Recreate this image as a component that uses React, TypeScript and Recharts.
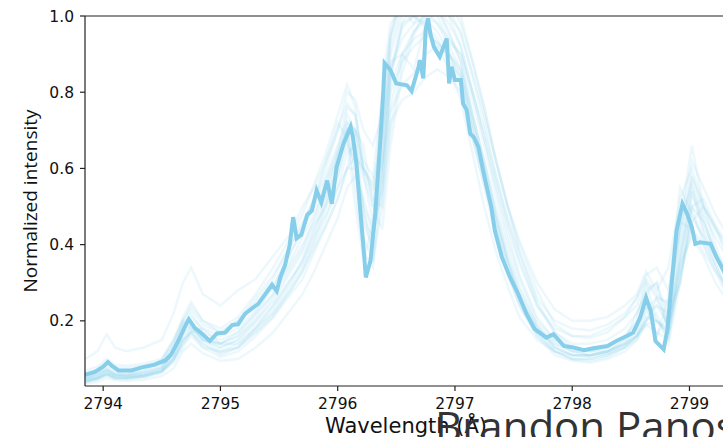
import React from 'react';
import { LineChart, Line, XAxis, YAxis, ReferenceLine } from 'recharts';

// bold profile (the highlighted spectrum)
const boldWave = [
  2793.845, 2793.93, 2794.0, 2794.04, 2794.07, 2794.13, 2794.24, 2794.33, 2794.44, 2794.53,
  2794.58, 2794.64, 2794.7, 2794.73, 2794.78, 2794.84, 2794.91, 2794.97, 2795.04, 2795.1,
  2795.15, 2795.21, 2795.27, 2795.32, 2795.37, 2795.44, 2795.48, 2795.51, 2795.55, 2795.59,
  2795.62, 2795.65, 2795.69, 2795.74, 2795.78, 2795.82, 2795.86, 2795.91, 2795.95, 2795.99,
  2796.05, 2796.11, 2796.13, 2796.16, 2796.19, 2796.22, 2796.24, 2796.28, 2796.32, 2796.36,
  2796.39, 2796.4, 2796.45, 2796.5, 2796.59, 2796.63, 2796.69, 2796.7, 2796.73, 2796.75,
  2796.77, 2796.79, 2796.82, 2796.87, 2796.93, 2796.95, 2796.97, 2797.0, 2797.05, 2797.07,
  2797.1, 2797.13, 2797.16, 2797.2, 2797.24, 2797.27, 2797.31, 2797.34, 2797.4, 2797.47,
  2797.54, 2797.61, 2797.68, 2797.78, 2797.84, 2797.93, 2798.01, 2798.1, 2798.18, 2798.3,
  2798.38, 2798.47, 2798.52, 2798.58, 2798.63, 2798.67, 2798.71, 2798.78, 2798.81, 2798.85,
  2798.89, 2798.94, 2798.98, 2799.02, 2799.05, 2799.09, 2799.18, 2799.23, 2799.29, 2799.33,
];
const boldInt = [
  0.058, 0.066, 0.08, 0.092, 0.083, 0.07, 0.07, 0.078, 0.085, 0.096,
  0.112, 0.147, 0.187, 0.204, 0.182, 0.167, 0.147, 0.167, 0.169, 0.189,
  0.191, 0.218, 0.233, 0.244, 0.265, 0.295, 0.278, 0.314, 0.345, 0.398,
  0.472, 0.417, 0.426, 0.478, 0.489, 0.542, 0.511, 0.568, 0.507, 0.603,
  0.665, 0.709, 0.682, 0.612, 0.498, 0.393, 0.314, 0.358, 0.481, 0.656,
  0.805, 0.876, 0.858, 0.823, 0.818, 0.803, 0.867, 0.884, 0.836, 0.963,
  0.994, 0.954, 0.919, 0.893, 0.941, 0.823, 0.867, 0.832, 0.832, 0.77,
  0.753, 0.691, 0.682, 0.656, 0.595, 0.553, 0.498, 0.437, 0.367, 0.314,
  0.27, 0.218, 0.178, 0.156, 0.165, 0.134, 0.13, 0.123, 0.128, 0.134,
  0.148, 0.161, 0.169, 0.209, 0.261, 0.226, 0.147, 0.125, 0.174, 0.305,
  0.437, 0.507, 0.481, 0.446, 0.402, 0.406, 0.402, 0.367, 0.332, 0.31,
];

// faint profiles share a coarser wavelength grid
const faintWave = [
  2793.85, 2793.95, 2794.03, 2794.1, 2794.2, 2794.35, 2794.5, 2794.6, 2794.68, 2794.75,
  2794.85, 2795.0, 2795.15, 2795.3, 2795.45, 2795.6, 2795.7, 2795.8, 2795.9, 2796.0,
  2796.08, 2796.15, 2796.22, 2796.3, 2796.38, 2796.45, 2796.55, 2796.65, 2796.75, 2796.85,
  2796.95, 2797.05, 2797.15, 2797.25, 2797.35, 2797.45, 2797.55, 2797.7, 2797.85, 2798.0,
  2798.15, 2798.3, 2798.45, 2798.55, 2798.63, 2798.72, 2798.82, 2798.92, 2799.02, 2799.12,
  2799.22, 2799.33,
];
const faintProfiles = [
  [0.05,0.06,0.075,0.062,0.06,0.066,0.08,0.11,0.16,0.18,0.15,0.14,0.16,0.2,0.25,0.33,0.38,0.45,0.5,0.58,0.66,0.62,0.45,0.4,0.7,0.88,0.9,0.86,0.98,1.02,0.95,0.88,0.74,0.62,0.48,0.37,0.28,0.19,0.14,0.12,0.11,0.12,0.14,0.17,0.24,0.16,0.22,0.46,0.44,0.38,0.33,0.29],
  [0.1,0.12,0.165,0.13,0.12,0.13,0.15,0.22,0.3,0.34,0.27,0.24,0.28,0.31,0.37,0.43,0.5,0.55,0.62,0.7,0.77,0.74,0.62,0.58,0.78,0.95,1.05,1.1,1.12,1.08,1.02,0.95,0.85,0.74,0.62,0.5,0.41,0.3,0.23,0.2,0.2,0.21,0.24,0.27,0.33,0.28,0.34,0.52,0.6,0.5,0.45,0.4],
  [0.035,0.04,0.05,0.044,0.042,0.046,0.055,0.075,0.12,0.14,0.115,0.095,0.1,0.13,0.17,0.23,0.27,0.33,0.4,0.47,0.55,0.58,0.52,0.44,0.6,0.75,0.82,0.85,0.9,0.92,0.9,0.85,0.7,0.57,0.44,0.33,0.24,0.16,0.11,0.095,0.09,0.1,0.12,0.15,0.19,0.2,0.17,0.35,0.42,0.37,0.3,0.25],
  [0.048,0.056,0.07,0.058,0.055,0.06,0.075,0.12,0.19,0.22,0.17,0.15,0.17,0.22,0.27,0.36,0.42,0.48,0.55,0.63,0.74,0.7,0.5,0.36,0.62,0.92,1.02,0.98,1.05,1.0,0.93,0.9,0.78,0.66,0.53,0.41,0.31,0.2,0.15,0.13,0.12,0.13,0.16,0.2,0.3,0.2,0.18,0.45,0.56,0.44,0.38,0.33],
  [0.04,0.05,0.062,0.05,0.05,0.055,0.07,0.1,0.15,0.17,0.13,0.12,0.14,0.18,0.23,0.3,0.36,0.44,0.52,0.64,0.7,0.55,0.38,0.34,0.55,0.82,0.9,0.94,0.96,0.93,0.9,0.84,0.7,0.58,0.46,0.35,0.26,0.18,0.13,0.11,0.105,0.115,0.135,0.16,0.2,0.26,0.2,0.3,0.5,0.46,0.38,0.29],
  [0.06,0.07,0.085,0.072,0.07,0.076,0.09,0.14,0.2,0.24,0.2,0.17,0.2,0.25,0.31,0.4,0.46,0.52,0.6,0.7,0.8,0.78,0.7,0.66,0.74,0.95,1.08,1.12,1.15,1.1,1.06,1.0,0.88,0.76,0.62,0.5,0.4,0.28,0.19,0.16,0.155,0.17,0.21,0.26,0.32,0.34,0.28,0.44,0.62,0.55,0.48,0.42],
  [0.045,0.052,0.066,0.056,0.054,0.058,0.07,0.1,0.14,0.18,0.16,0.13,0.15,0.19,0.24,0.31,0.35,0.42,0.48,0.55,0.6,0.63,0.6,0.52,0.5,0.7,0.88,0.96,1.0,1.04,1.0,0.92,0.8,0.68,0.55,0.43,0.32,0.21,0.15,0.12,0.11,0.12,0.14,0.16,0.19,0.17,0.15,0.33,0.46,0.5,0.4,0.31],
  [0.05,0.058,0.072,0.06,0.058,0.064,0.078,0.12,0.18,0.2,0.16,0.14,0.16,0.21,0.27,0.35,0.4,0.46,0.53,0.6,0.7,0.66,0.48,0.42,0.58,0.84,0.97,1.0,0.98,0.94,0.88,0.84,0.72,0.6,0.47,0.36,0.27,0.18,0.13,0.11,0.11,0.115,0.14,0.18,0.27,0.3,0.17,0.38,0.54,0.43,0.37,0.31],
  [0.038,0.046,0.056,0.048,0.047,0.052,0.064,0.095,0.14,0.16,0.13,0.105,0.12,0.16,0.21,0.28,0.33,0.4,0.47,0.55,0.64,0.66,0.58,0.46,0.62,0.86,0.98,1.04,1.06,1.02,0.96,0.88,0.74,0.61,0.48,0.36,0.26,0.17,0.12,0.1,0.095,0.105,0.13,0.16,0.22,0.24,0.19,0.36,0.5,0.4,0.34,0.27],
  [0.07,0.08,0.1,0.085,0.082,0.088,0.1,0.15,0.21,0.25,0.2,0.18,0.21,0.27,0.34,0.42,0.48,0.56,0.64,0.74,0.82,0.76,0.58,0.5,0.66,0.9,1.0,1.04,1.06,1.02,0.98,0.92,0.8,0.7,0.58,0.47,0.38,0.26,0.2,0.18,0.175,0.19,0.22,0.26,0.31,0.27,0.24,0.46,0.66,0.5,0.44,0.38],
  [0.042,0.05,0.062,0.052,0.05,0.056,0.07,0.11,0.16,0.19,0.15,0.12,0.13,0.17,0.22,0.29,0.34,0.41,0.5,0.58,0.68,0.6,0.42,0.36,0.5,0.76,0.9,0.96,0.99,0.96,0.9,0.82,0.68,0.55,0.42,0.32,0.24,0.16,0.12,0.1,0.1,0.11,0.13,0.15,0.2,0.22,0.14,0.3,0.47,0.42,0.35,0.27],
  [0.055,0.064,0.078,0.066,0.064,0.07,0.085,0.13,0.19,0.21,0.18,0.16,0.18,0.23,0.29,0.38,0.44,0.5,0.57,0.65,0.76,0.74,0.6,0.55,0.7,0.94,1.04,1.08,1.1,1.05,1.0,0.96,0.84,0.72,0.58,0.46,0.36,0.24,0.17,0.14,0.14,0.15,0.18,0.22,0.28,0.3,0.21,0.4,0.58,0.48,0.42,0.36],
  [0.04,0.047,0.058,0.05,0.049,0.054,0.066,0.1,0.15,0.17,0.14,0.11,0.13,0.18,0.24,0.31,0.36,0.43,0.51,0.6,0.72,0.7,0.6,0.54,0.62,0.8,0.88,0.92,0.95,0.93,0.9,0.86,0.74,0.62,0.5,0.39,0.29,0.19,0.13,0.11,0.11,0.12,0.15,0.18,0.23,0.26,0.18,0.34,0.55,0.47,0.38,0.3],
  [0.048,0.055,0.068,0.057,0.056,0.062,0.076,0.115,0.17,0.19,0.15,0.13,0.15,0.2,0.26,0.34,0.39,0.47,0.56,0.64,0.7,0.62,0.46,0.42,0.56,0.84,0.98,1.0,1.02,0.98,0.92,0.86,0.72,0.59,0.46,0.35,0.26,0.18,0.14,0.12,0.12,0.13,0.16,0.19,0.24,0.2,0.17,0.37,0.53,0.46,0.38,0.31],
  [0.044,0.05,0.06,0.055,0.052,0.058,0.068,0.09,0.13,0.17,0.18,0.14,0.14,0.18,0.22,0.28,0.33,0.39,0.45,0.52,0.6,0.7,0.66,0.5,0.44,0.66,0.85,0.95,1.02,1.06,1.04,0.98,0.88,0.76,0.62,0.5,0.38,0.25,0.17,0.13,0.12,0.12,0.14,0.16,0.2,0.24,0.22,0.3,0.5,0.52,0.45,0.36],
  [0.05,0.062,0.07,0.06,0.058,0.068,0.1,0.15,0.2,0.18,0.15,0.14,0.17,0.22,0.29,0.38,0.44,0.52,0.62,0.72,0.68,0.5,0.36,0.45,0.82,0.98,1.02,1.0,0.97,0.92,0.86,0.78,0.64,0.5,0.38,0.29,0.21,0.15,0.12,0.11,0.11,0.12,0.15,0.22,0.27,0.16,0.26,0.55,0.48,0.42,0.35,0.28],
  [0.065,0.072,0.09,0.078,0.076,0.082,0.095,0.14,0.2,0.23,0.19,0.17,0.2,0.26,0.32,0.4,0.45,0.52,0.58,0.66,0.72,0.7,0.6,0.56,0.68,0.86,0.94,0.98,1.0,0.98,0.94,0.9,0.8,0.68,0.56,0.45,0.35,0.24,0.18,0.16,0.16,0.18,0.21,0.24,0.3,0.26,0.25,0.42,0.58,0.5,0.44,0.4],
  [0.042,0.048,0.06,0.05,0.05,0.054,0.066,0.1,0.15,0.17,0.14,0.115,0.13,0.17,0.21,0.27,0.31,0.38,0.45,0.52,0.6,0.6,0.5,0.44,0.54,0.72,0.78,0.8,0.84,0.86,0.84,0.8,0.68,0.56,0.44,0.33,0.25,0.17,0.12,0.1,0.1,0.11,0.13,0.16,0.21,0.2,0.16,0.32,0.44,0.4,0.33,0.26],
];

const xTicks = [2794, 2795, 2796, 2797, 2798, 2799];
const yTicks = [0.2, 0.4, 0.6, 0.8, 1.0];

const SKY = '#87CEEB';
const tickFont = { fontFamily: 'DejaVu Sans', fontSize: 15.5, fill: '#111' };

const boldData = boldWave.map((w, i) => ({ w, v: boldInt[i] }));
const faintData = faintProfiles.map((p) => faintWave.map((w, i) => ({ w, v: p[i] })));

export default function App() {
  return (
    <div style={{ position: 'fixed', left: 0, top: 0, width: 723, height: 437, overflow: 'hidden', background: '#fff' }}>
      <div style={{ position: 'absolute', left: 0, top: 0 }}>
        <LineChart width={740} height={437} margin={{ top: 16, right: 13, bottom: 21, left: 25 }}>
          <XAxis
            dataKey="w"
            type="number"
            domain={[2793.845, 2799.32]}
            allowDataOverflow
            ticks={xTicks}
            tickSize={5}
            tickMargin={7}
            height={30}
            stroke="#222"
            strokeWidth={1.2}
            tick={tickFont}
          />
          <YAxis
            type="number"
            domain={[0.029, 1.0]}
            allowDataOverflow
            ticks={yTicks}
            tickFormatter={(v: number) => v.toFixed(1)}
            tickSize={5}
            tickMargin={6}
            width={60}
            stroke="#222"
            strokeWidth={1.2}
            tick={tickFont}
          />
          {faintData.map((d, i) => (
            <Line
              key={i}
              data={d}
              dataKey="v"
              type="linear"
              stroke={SKY}
              strokeOpacity={0.15}
              strokeWidth={2.5}
              dot={false}
              isAnimationActive={false}
            />
          ))}
          <Line
            data={boldData}
            dataKey="v"
            type="linear"
            stroke={SKY}
            strokeWidth={4}
            dot={false}
            isAnimationActive={false}
          />
          <ReferenceLine y={1.0} stroke="#222" strokeWidth={1.2} />
        </LineChart>
      </div>
      <svg width={723} height={437} style={{ position: 'absolute', left: 0, top: 0, pointerEvents: 'none' }}>
        <text
          x={37}
          y={201}
          transform="rotate(-90 37 201)"
          textAnchor="middle"
          fontFamily="Open Sans"
          fontSize={19}
          fill="#111"
        >
          Normalized intensity
        </text>
        <text x={406} y={433} textAnchor="middle" fontFamily="DejaVu Sans" fontSize={21} fill="#111">
          Wavelength (Å)
        </text>
        <text x={435} y={442} fontFamily="Open Sans" fontSize={42} fill="#333">
          Brandon Panos
        </text>
      </svg>
    </div>
  );
}
